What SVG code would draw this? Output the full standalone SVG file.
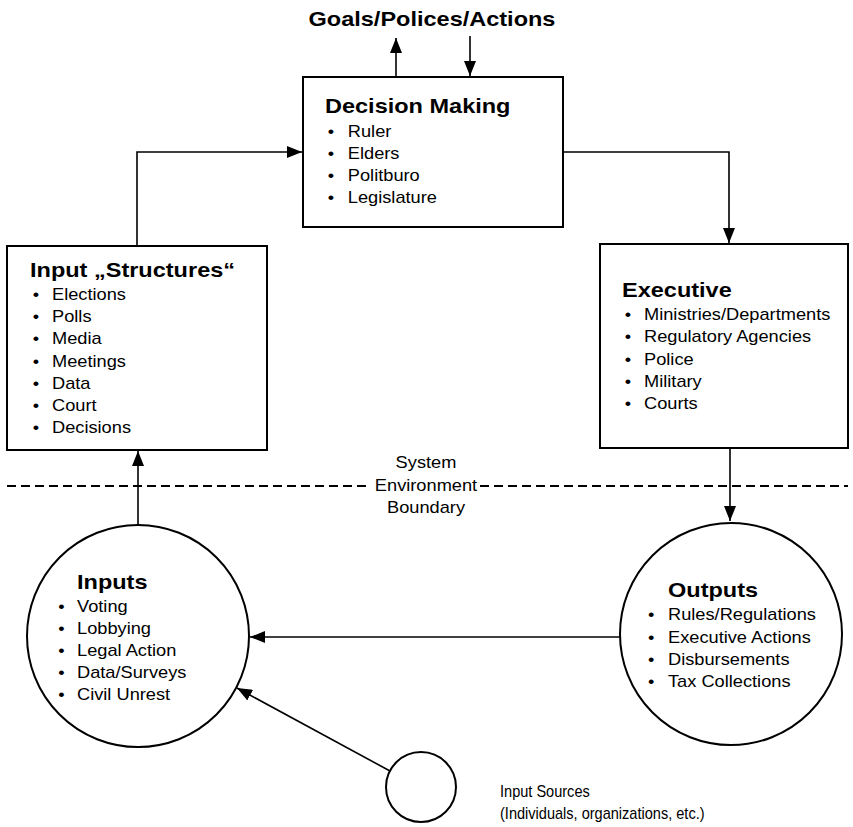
<svg xmlns="http://www.w3.org/2000/svg" width="853" height="827" viewBox="0 0 853 827">
  <defs>
    <marker id="arrow" markerUnits="userSpaceOnUse" markerWidth="16" markerHeight="12" refX="15" refY="6" orient="auto">
      <path d="M0,0 L15,6 L0,12 z" fill="#000"/>
    </marker>
    <style>
      .box { fill: #fff; stroke: #000; stroke-width: 2; }
      .conn { fill: none; stroke: #000; stroke-width: 1.6; }
      .dash { fill: none; stroke: #000; stroke-width: 2; stroke-dasharray: 9 5; }
      text { font-family: "Liberation Sans", Arial, Helvetica, sans-serif; fill: #000; }
      .title { font-size: 21px; font-weight: bold; }
      .item { font-size: 16px; }
    </style>
  </defs>

  <rect width="853" height="827" fill="#fff"/>

  <!-- heading above the decision box -->
  <g id="goals">
    <g transform="translate(432 26) scale(1.12 1)">
      <text class="title" x="0" y="0" text-anchor="middle">Goals/Polices/Actions</text>
    </g>
  </g>

  <!-- system / environment boundary -->
  <g id="boundary">
    <path class="dash" d="M7,486 H366"/>
    <path class="dash" d="M480,486 H848"/>
    <g transform="translate(426 0) scale(1.14 1)">
      <text class="item" x="0" y="468" text-anchor="middle">System</text>
      <text class="item" x="0" y="491" text-anchor="middle">Environment</text>
      <text class="item" x="0" y="513" text-anchor="middle">Boundary</text>
    </g>
  </g>

  <g id="connectors">
    <path class="conn" d="M137,246 V152 H302" marker-end="url(#arrow)"/>
    <path class="conn" d="M563,152 H729 V243" marker-end="url(#arrow)"/>
    <path class="conn" d="M730,448 V521" marker-end="url(#arrow)"/>
    <path class="conn" d="M620,637 H250" marker-end="url(#arrow)"/>
    <path class="conn" d="M390,771 L237,688" marker-end="url(#arrow)"/>
    <path class="conn" d="M138,525 V451" marker-end="url(#arrow)"/>
    <path class="conn" d="M396,77 V38" marker-end="url(#arrow)"/>
    <path class="conn" d="M470,36 V76" marker-end="url(#arrow)"/>
  </g>

  <!-- box title positions use the title scale; list items use the item scale -->
  <g id="decision-making">
    <rect class="box" x="303" y="77" width="260" height="150"/>
    <text class="title" transform="translate(325 113) scale(1.12 1)">Decision Making</text>
    <g transform="translate(325 0) scale(1.14 1)">
      <text class="item" x="2.5" y="137">•</text><text class="item" x="20" y="137">Ruler</text>
      <text class="item" x="2.5" y="159">•</text><text class="item" x="20" y="159">Elders</text>
      <text class="item" x="2.5" y="181">•</text><text class="item" x="20" y="181">Politburo</text>
      <text class="item" x="2.5" y="203">•</text><text class="item" x="20" y="203">Legislature</text>
    </g>
  </g>

  <g id="input-structures">
    <rect class="box" x="7" y="246" width="260" height="204"/>
    <text class="title" transform="translate(30 277) scale(1.12 1)">Input „Structures“</text>
    <g transform="translate(30 0) scale(1.14 1)">
      <text class="item" x="2.5" y="300">•</text><text class="item" x="19.3" y="300">Elections</text>
      <text class="item" x="2.5" y="322">•</text><text class="item" x="19.3" y="322">Polls</text>
      <text class="item" x="2.5" y="344">•</text><text class="item" x="19.3" y="344">Media</text>
      <text class="item" x="2.5" y="367">•</text><text class="item" x="19.3" y="367">Meetings</text>
      <text class="item" x="2.5" y="389">•</text><text class="item" x="19.3" y="389">Data</text>
      <text class="item" x="2.5" y="411">•</text><text class="item" x="19.3" y="411">Court</text>
      <text class="item" x="2.5" y="433">•</text><text class="item" x="19.3" y="433">Decisions</text>
    </g>
  </g>

  <g id="executive">
    <rect class="box" x="600" y="244" width="248" height="204"/>
    <text class="title" transform="translate(622 297) scale(1.12 1)">Executive</text>
    <g transform="translate(622 0) scale(1.14 1)">
      <text class="item" x="2.5" y="320">•</text><text class="item" x="19.3" y="320">Ministries/Departments</text>
      <text class="item" x="2.5" y="342">•</text><text class="item" x="19.3" y="342">Regulatory Agencies</text>
      <text class="item" x="2.5" y="365">•</text><text class="item" x="19.3" y="365">Police</text>
      <text class="item" x="2.5" y="387">•</text><text class="item" x="19.3" y="387">Military</text>
      <text class="item" x="2.5" y="409">•</text><text class="item" x="19.3" y="409">Courts</text>
    </g>
  </g>

  <g id="inputs">
    <circle class="box" cx="138" cy="636" r="111"/>
    <text class="title" transform="translate(77 589) scale(1.12 1)">Inputs</text>
    <g transform="translate(77 0) scale(1.14 1)">
      <text class="item" x="-16.5" y="612">•</text><text class="item" x="0" y="612">Voting</text>
      <text class="item" x="-16.5" y="634">•</text><text class="item" x="0" y="634">Lobbying</text>
      <text class="item" x="-16.5" y="656">•</text><text class="item" x="0" y="656">Legal Action</text>
      <text class="item" x="-16.5" y="678">•</text><text class="item" x="0" y="678">Data/Surveys</text>
      <text class="item" x="-16.5" y="700">•</text><text class="item" x="0" y="700">Civil Unrest</text>
    </g>
  </g>

  <g id="outputs">
    <circle class="box" cx="731" cy="634" r="111"/>
    <text class="title" transform="translate(668 597) scale(1.12 1)">Outputs</text>
    <g transform="translate(668 0) scale(1.14 1)">
      <text class="item" x="-17.5" y="620">•</text><text class="item" x="0" y="620">Rules/Regulations</text>
      <text class="item" x="-17.5" y="643">•</text><text class="item" x="0" y="643">Executive Actions</text>
      <text class="item" x="-17.5" y="665">•</text><text class="item" x="0" y="665">Disbursements</text>
      <text class="item" x="-17.5" y="687">•</text><text class="item" x="0" y="687">Tax Collections</text>
    </g>
  </g>

  <g id="input-sources">
    <circle class="box" cx="421" cy="787" r="35"/>
    <g transform="translate(500 0) scale(0.91 1)">
      <text class="item" x="0" y="797">Input Sources</text>
      <text class="item" x="0" y="819">(Individuals, organizations, etc.)</text>
    </g>
  </g>
</svg>
